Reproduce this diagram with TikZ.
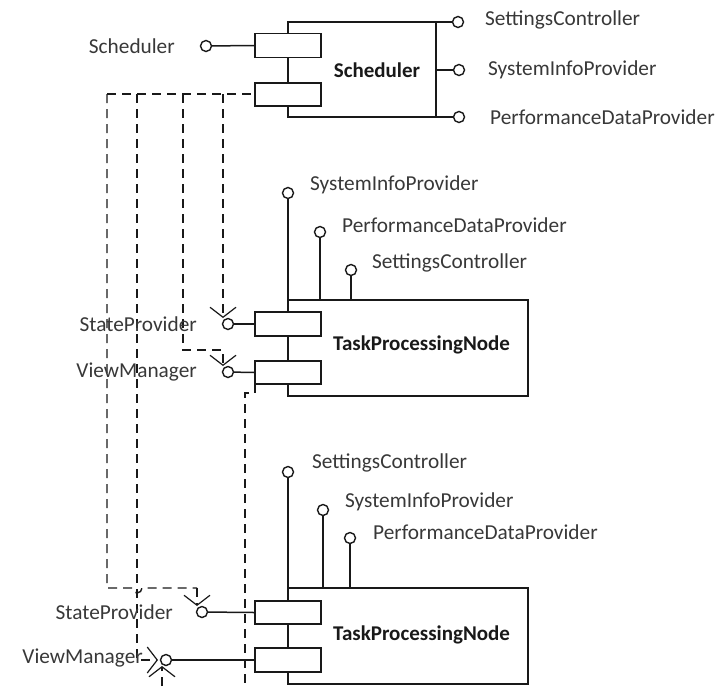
\documentclass[tikz,border=0pt]{standalone}
\usepackage{fontspec}
\setmainfont{Carlito}
\usetikzlibrary{arrows.meta}
\begin{document}
\begin{tikzpicture}[x=1pt,y=-1pt,
  solidline/.style={line width=1.5pt,draw=black!90},
  dep/.style={line width=1.4pt,draw=black!90,dash pattern=on 9pt off 6pt},
  arr/.style={-{Straight Barb[length=10pt,width=26pt,line width=1.2pt]}},
  portbox/.style={draw=black!90,line width=1.5pt,fill=white,inner sep=0pt,minimum width=66pt,minimum height=24pt},
  ball/.style={circle,draw=black!90,line width=1.4pt,fill=white,inner sep=0pt,minimum size=11pt},
  lbl/.style={inner sep=0pt,text=black!78,font=\fontsize{21.3}{25}\selectfont},
  title/.style={inner sep=0pt,text=black!90,font=\fontsize{21}{25}\selectfont\bfseries}]
\useasboundingbox (0,0) rectangle (717,686);

% ---------------- Scheduler component ----------------
\coordinate (sTL) at (288,22);
\coordinate (sTR) at (436,22);
\coordinate (sMR) at (436,70);
\coordinate (sBR) at (436,117);
\coordinate (sBL) at (288,117);
\draw[solidline] (sTL) -- (sTR) -- (sBR) -- (sBL) -- cycle;
\node[ball] (sb1) at (458,22) {};
\node[ball] (sb2) at (459,70) {};
\node[ball] (sb3) at (459,117) {};
\draw[solidline] (sTR) -- (sb1);
\draw[solidline] (sMR) -- (sb2);
\draw[solidline] (sBR) -- (sb3);
\node[lbl,anchor=west] (sl1) at (485,20) {SettingsController};
\node[lbl,anchor=west] (sl2) at (488,70) {SystemInfoProvider};
\node[lbl,anchor=west] (sl3) at (490,117) {PerformanceDataProvider};
\node[title] (stitle) at (377,70) {Scheduler};

% dependency bus leaving the lower Scheduler port
\coordinate (bus0) at (107,94);
\coordinate (bus1) at (137,94);
\coordinate (bus2) at (183,94);
\coordinate (bus3) at (223,94);

% ---------------- TaskProcessingNode 1 ----------------
\coordinate (aTL) at (288,300);
\coordinate (aTR) at (528,300);
\coordinate (aBR) at (528,396);
\coordinate (aBL) at (288,396);
\draw[solidline] (aTL) -- (aTR) -- (aBR) -- (aBL) -- cycle;
\node[ball] (ab1) at (288,193) {};
\node[ball] (ab2) at (320,232) {};
\node[ball] (ab3) at (351,270) {};
\draw[solidline] (ab1) -- (aTL);
\draw[solidline] (ab2) -- (ab2 |- aTL);
\draw[solidline] (ab3) -- (ab3 |- aTL);
\node[lbl,anchor=west] (al1) at (310,185) {SystemInfoProvider};
\node[lbl,anchor=west] (al2) at (342,225) {PerformanceDataProvider};
\node[lbl,anchor=west] (al3) at (372,263) {SettingsController};
\node[title,anchor=west] (atitle) at (333,345) {TaskProcessingNode};

% ---------------- TaskProcessingNode 2 ----------------
\coordinate (bTL) at (288,588);
\coordinate (bTR) at (528,588);
\coordinate (bBR) at (528,684);
\coordinate (bBL) at (288,684);
\draw[solidline] (bTL) -- (bTR) -- (bBR) -- (bBL) -- cycle;
\node[ball] (bb1) at (288,472) {};
\node[ball] (bb2) at (323,510) {};
\node[ball] (bb3) at (350,538) {};
\draw[solidline] (bb1) -- (bTL);
\draw[solidline] (bb2) -- (bb2 |- bTL);
\draw[solidline] (bb3) -- (bb3 |- bTL);
\node[lbl,anchor=west] (bl1) at (312,463) {SettingsController};
\node[lbl,anchor=west] (bl2) at (345,502) {SystemInfoProvider};
\node[lbl,anchor=west] (bl3) at (373,532) {PerformanceDataProvider};
\node[title,anchor=west] (btitle) at (333,635) {TaskProcessingNode};

% ---------------- dashed dependencies ----------------
\draw[dep] (bus0) -- (255,94);
\draw[dep,arr] (bus3) -- (223,318);
\draw[dep,arr] (bus2) -- (183,350) -- (223,350) -- (223,366);
\draw[dep] (bus0) -- (107,588) -- (132,588) arc[start angle=180,end angle=0,radius=5] -- (197,588);
\draw[dep,arr] (197,588) -- (197,606);
\draw[dep,arr] (bus1) |- (158,660);
\draw[dep,arr] (162,686) -- (162,666);
\draw[dep] (255,384) |- (245,393) -- (245,686);

% ---------------- ports, sockets and their labels ----------------
\node[portbox] (sp1) at (288,45.5) {};
\node[portbox,minimum height=23pt] (sp2) at (288,94.5) {};
\node[ball] (schIn) at (206,46) {};
\draw[solidline] (schIn) -- (sp1.west);
\node[lbl,anchor=east] (schL) at (175,46) {Scheduler};

\node[portbox] (ap1) at (288,324) {};
\node[portbox,minimum height=23pt] (ap2) at (288,372.5) {};
\node[ball] (aSt) at (228,324) {};
\node[ball] (aVm) at (228,372) {};
\draw[solidline] (aSt) -- (ap1.west);
\draw[solidline] (aVm) -- (ap2.west);
\node[lbl,anchor=east] (aStL) at (197,324) {StateProvider};
\node[lbl,anchor=east] (aVmL) at (197,372) {ViewManager};

\node[portbox,minimum height=23pt] (bp1) at (288,612.5) {};
\node[portbox] (bp2) at (288,660) {};
\node[ball] (bSt) at (202,612) {};
\node[ball] (bVm) at (166,660) {};
\draw[solidline] (bSt) -- (bp1.west);
\draw[solidline] (bVm) -- (bp2.west);
\node[lbl,anchor=east] (bStL) at (173,612) {StateProvider};
\node[lbl,anchor=east] (bVmL) at (143,658) {ViewManager};
\end{tikzpicture}
\end{document}
